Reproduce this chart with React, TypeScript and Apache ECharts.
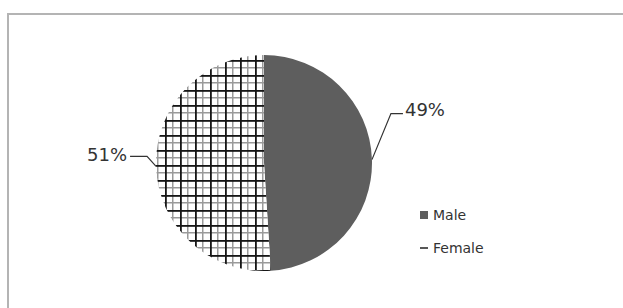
import React, { useEffect, useRef } from "react";
import * as echarts from "echarts";

const categories = ["Male", "Female"];
const values = [49, 51];
const labelTexts = ["49%", "51%"];

function makeHatch(): HTMLCanvasElement {
  const c = document.createElement("canvas");
  c.width = 15;
  c.height = 15;
  const ctx = c.getContext("2d")!;
  ctx.fillStyle = "#ffffff";
  ctx.fillRect(0, 0, 15, 15);
  ctx.fillStyle = "#9a9a9a";
  ctx.fillRect(7, 0, 1.5, 15);
  ctx.fillRect(0, 7, 15, 1.5);
  ctx.fillStyle = "#161616";
  ctx.fillRect(0, 0, 1.8, 15);
  ctx.fillRect(0, 0, 15, 1.8);
  return c;
}

export default function App() {
  const ref = useRef<HTMLDivElement>(null);
  useEffect(() => {
    if (!ref.current) return;
    const chart = echarts.init(ref.current, null, { renderer: "svg" });
    const hatch = makeHatch();
    const colors: any[] = [
      "#5e5e5e",
      { image: hatch, repeat: "repeat", imageWidth: 15, imageHeight: 15 },
    ];
    chart.setOption({
      animation: false,
      backgroundColor: "#ffffff",
      graphic: [
        {
          type: "rect",
          shape: { x: 8, y: 14, width: 700, height: 400 },
          style: { fill: "none", stroke: "#b4b4b4", lineWidth: 2 },
          silent: true,
        },
      ],
      legend: {
        orient: "vertical",
        left: 415,
        top: 203,
        itemWidth: 8,
        itemHeight: 8,
        itemGap: 19,
        textStyle: { fontFamily: "DejaVu Sans", fontSize: 14, color: "#333" },
        data: [
          { name: categories[0], icon: "rect" },
          {
            name: categories[1],
            icon: "path://M0,0L0.05,0L0.05,0.05Z M0,4.2H10V6H0Z M9.95,9.95L10,9.95L10,10Z",
            itemStyle: { color: "#222" },
          },
        ],
      },
      series: [
        {
          type: "pie",
          center: [264, 163],
          radius: 108,
          startAngle: 90,
          clockwise: true,
          data: categories.map((n, i) => ({
            name: n,
            value: values[i],
            itemStyle: { color: colors[i] },
            label: { formatter: labelTexts[i] },
          })),
          emphasis: { disabled: true },
          label: {
            show: true,
            position: "outside",
            fontFamily: "DejaVu Sans",
            fontSize: 18,
            color: "#333",
          },
          labelLine: {
            show: true,
            length: 20,
            length2: 12,
            lineStyle: { color: "#333", width: 1.2 },
          },
          labelLayout: (params: any) => {
            const p = params.labelLinePoints;
            if (!p) return {};
            const a = p[0];
            if (params.dataIndex === 0) {
              const elbow = [a[0] + 19, a[1] - 46];
              const end = [elbow[0] + 12, elbow[1]];
              return {
                x: end[0] + 2,
                y: end[1] - 4,
                align: "left",
                verticalAlign: "middle",
                labelLinePoints: [a, elbow, end],
              };
            }
            const elbow = [a[0] - 9, a[1] - 10];
            const end = [elbow[0] - 17, elbow[1]];
            return {
              x: end[0] - 3,
              y: end[1] - 2,
              align: "right",
              verticalAlign: "middle",
              labelLinePoints: [a, elbow, end],
            };
          },
        },
      ],
    });
    return () => chart.dispose();
  }, []);
  return (
    <div
      ref={ref}
      style={{ position: "absolute", left: 0, top: 0, width: 623, height: 308 }}
    />
  );
}
